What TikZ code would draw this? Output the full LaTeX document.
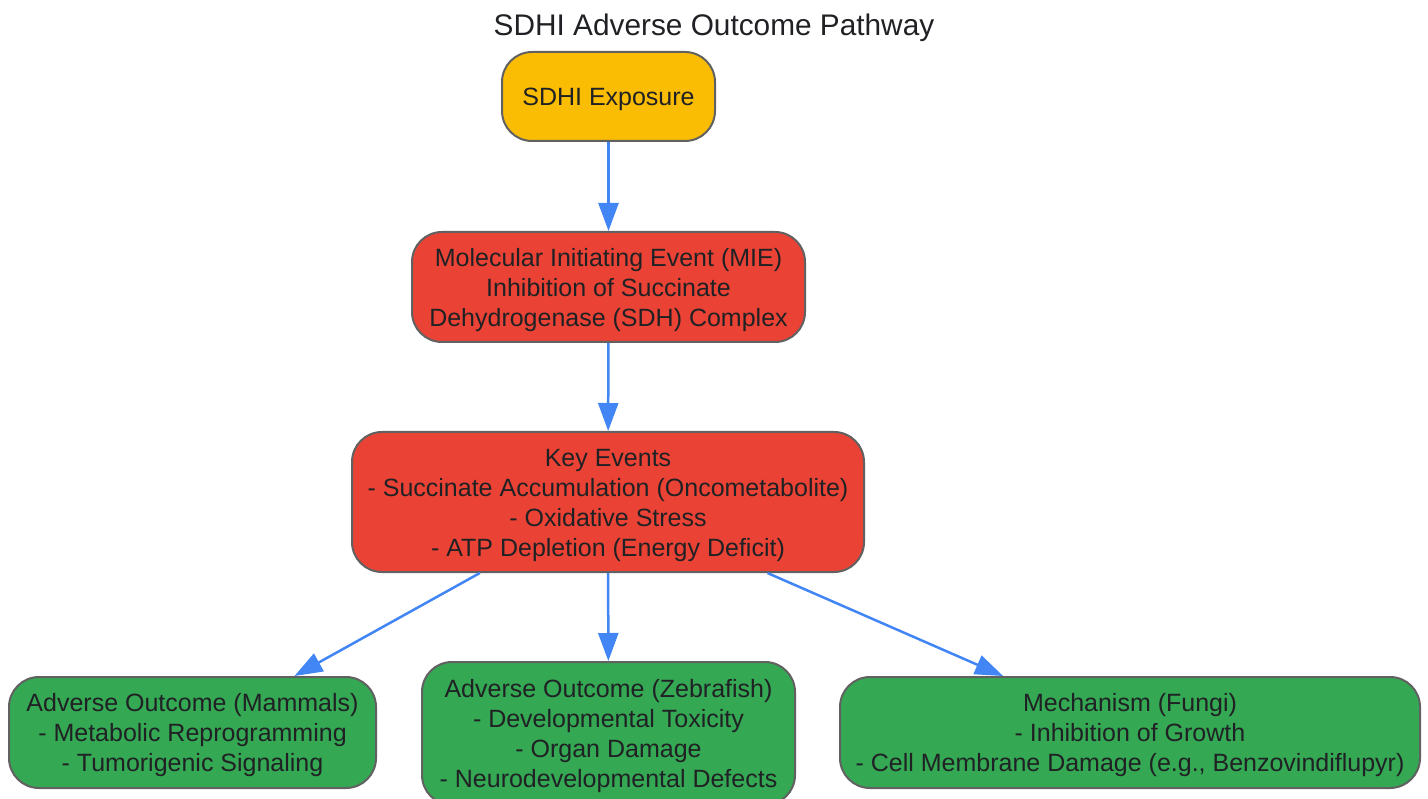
\documentclass[tikz,border=0pt]{standalone}
\usepackage{fontspec}
\setmainfont{Liberation Sans}
\usetikzlibrary{positioning,arrows.meta,calc}

\definecolor{expyellow}{HTML}{FBBC04}
\definecolor{eventred}{HTML}{EA4335}
\definecolor{outgreen}{HTML}{34A853}
\definecolor{flowblue}{HTML}{4285F4}
\definecolor{edgegray}{HTML}{616161}
\definecolor{inkgray}{HTML}{202124}

% strut for the first text line of a box
\newcommand{\firstln}{\rule{0pt}{24pt}}

\begin{document}
\begin{tikzpicture}[
    x=1pt, y=-1pt,
    >={Triangle[length=28pt,width=20pt]},
    box/.style={
        rectangle,
        rounded corners=30pt,
        draw=edgegray,
        line width=2pt,
        align=center,
        text=inkgray,
        inner sep=0pt,
        font=\fontsize{25}{30}\selectfont
    },
    flow/.style={->, draw=flowblue, line width=2.5pt}
]
\useasboundingbox (0,0) rectangle (1428,799);

\node[text=inkgray, font=\fontsize{29.8}{34}\selectfont] (title) at (714,28) {SDHI Adverse Outcome Pathway};

\node[box, fill=expyellow, minimum width=213pt, minimum height=89pt] (SDHI) at (608.5,96.5) {\firstln SDHI Exposure};

\node[box, fill=eventred, minimum width=393pt, minimum height=110pt] (MIE) at (608.5,287) {
\firstln Molecular Initiating Event (MIE)\\
Inhibition of Succinate\\
Dehydrogenase (SDH) Complex
};

\node[box, fill=eventred, minimum width=512pt, minimum height=140pt] (KE) at (608,502) {
\firstln Key Events\\
- Succinate Accumulation (Oncometabolite)\\
- Oxidative Stress\\
- ATP Depletion (Energy Deficit)
};

\node[box, fill=outgreen, minimum width=367pt, minimum height=111pt] (AOmam) at (192.5,732.5) {
\firstln Adverse Outcome (Mammals)\\
- Metabolic Reprogramming\\
- Tumorigenic Signaling
};

\node[box, fill=outgreen, minimum width=373pt, minimum height=143pt] (AOzeb) at (608.5,733.5) {
\firstln Adverse Outcome (Zebrafish)\\
- Developmental Toxicity\\
- Organ Damage\\
- Neurodevelopmental Defects
};

\node[box, fill=outgreen, minimum width=580pt, minimum height=111pt] (MFun) at (1130,732.5) {
\firstln Mechanism (Fungi)\\
- Inhibition of Growth\\
- Cell Membrane Damage (e.g., Benzovindiflupyr)
};

\draw[flow] (SDHI) -- (MIE);
\draw[flow] (MIE) -- (KE);
\draw[flow] (KE.209) -- (AOmam.29);
\draw[flow] (KE) -- (AOzeb);
\draw[flow] (KE.-24) -- (MFun.156);

\end{tikzpicture}
\end{document}
